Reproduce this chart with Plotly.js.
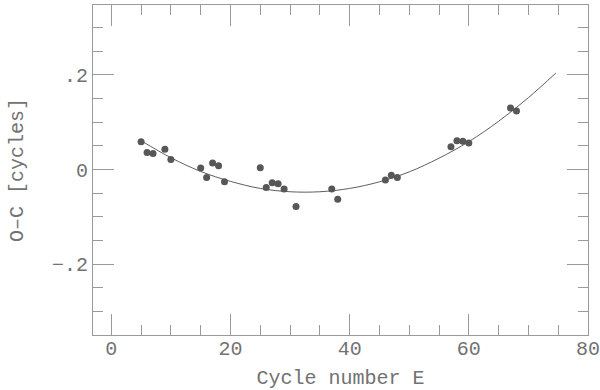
<!DOCTYPE html>
<html>
<head>
<meta charset="utf-8">
<script src="https://cdn.plot.ly/plotly-3.0.1.min.js"></script>
<style>html,body{margin:0;padding:0;background:#fff;}#chart{width:600px;height:390px;}</style>
</head>
<body>
<div id="chart"></div>
<script>
// Observed O-C values
const cycleE = [5, 6, 7, 9, 10, 15, 16, 17, 18, 19, 25, 26, 27, 28, 29, 31, 37, 38, 46, 47, 48, 57, 58, 59, 60, 67, 68];
const oMinusC = [0.059, 0.036, 0.034, 0.043, 0.021, 0.003, -0.017, 0.014, 0.008, -0.026, 0.004, -0.038, -0.028, -0.030, -0.041, -0.078, -0.041, -0.063, -0.022, -0.012, -0.017, 0.048, 0.061, 0.060, 0.056, 0.130, 0.124];

// Fitted curve
const fitE = [5, 10, 15, 20, 25, 30, 35, 40, 45, 50, 55, 60, 65, 70, 74.6];
const fitOC = [0.061, 0.025, -0.004, -0.025, -0.040, -0.047, -0.047, -0.040, -0.026, -0.005, 0.024, 0.059, 0.102, 0.152, 0.204];

// Tick labels
const xTickVals = [0, 20, 40, 60, 80];
const xTickText = ['0', '20', '40', '60', '80'];
const yTickVals = [-0.2, 0, 0.2];
const yTickText = ['\u2212.2', '0', '.2'];

const axisColor = '#9a9a9a';
const textColor = '#727272';
const fontFam = '"Liberation Mono", "DejaVu Sans Mono", monospace';

const traces = [
  {
    x: fitE, y: fitOC, type: 'scatter', mode: 'lines',
    line: {color: '#5e5e5e', width: 1, shape: 'spline'},
    hoverinfo: 'skip', showlegend: false
  },
  {
    x: cycleE, y: oMinusC, type: 'scatter', mode: 'markers',
    marker: {color: '#575757', size: 7},
    showlegend: false
  }
];

const layout = {
  width: 600, height: 390,
  margin: {l: 93, r: 12, t: 5, b: 55},
  paper_bgcolor: '#ffffff', plot_bgcolor: '#ffffff',
  font: {family: fontFam, color: textColor, size: 19},
  showlegend: false,
  xaxis: {
    range: [-3.07, 80], showgrid: false, zeroline: false,
    showline: true, linecolor: axisColor, linewidth: 1, mirror: 'allticks',
    ticks: 'inside', ticklen: 21, tickwidth: 1, tickcolor: axisColor,
    tickvals: xTickVals, ticktext: xTickText,
    tickfont: {family: fontFam, color: textColor, size: 20},
    ticklabeloverflow: 'allow', ticklabelstandoff: -5,
    minor: {ticks: 'inside', ticklen: 10, dtick: 5, tick0: 0, tickcolor: axisColor, tickwidth: 1, showgrid: false},
    title: {text: 'Cycle number E', font: {family: fontFam, color: textColor, size: 20}, standoff: 14},
    automargin: false
  },
  yaxis: {
    range: [-0.35, 0.348], showgrid: false, zeroline: false,
    showline: true, linecolor: axisColor, linewidth: 1, mirror: 'allticks',
    ticks: 'inside', ticklen: 21, tickwidth: 1, tickcolor: axisColor,
    tickvals: yTickVals, ticktext: yTickText,
    tickfont: {family: fontFam, color: textColor, size: 20},
    ticklabeloverflow: 'allow',
    minor: {ticks: 'inside', ticklen: 10, dtick: 0.05, tick0: 0, tickcolor: axisColor, tickwidth: 1, showgrid: false},
    title: {text: 'O\u2013C [cycles]', font: {family: fontFam, color: textColor, size: 20}, standoff: 22},
    automargin: false
  }
};

Plotly.newPlot('chart', traces, layout, {displayModeBar: false, staticPlot: true});
</script>
</body>
</html>
